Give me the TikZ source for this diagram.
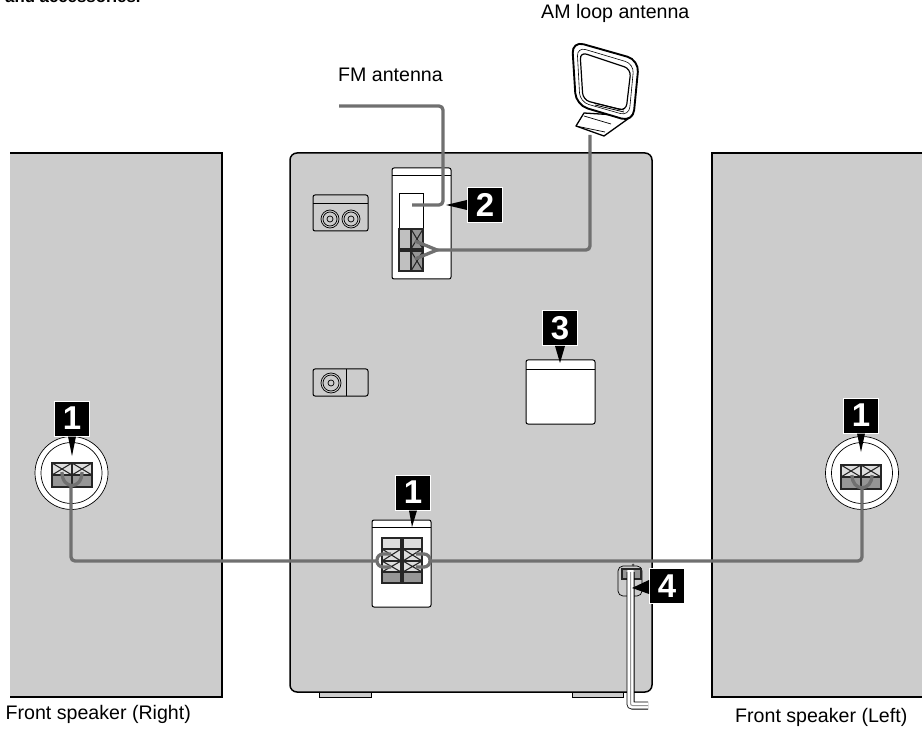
\documentclass[tikz,border=0pt]{standalone}
\usepackage{fontspec}
\setmainfont{Liberation Sans}
\definecolor{panelgrey}{RGB}{204,204,204}
\definecolor{wiregrey}{RGB}{112,112,112}
\definecolor{termgrey}{RGB}{150,150,150}
\definecolor{termlight}{RGB}{222,222,222}

\begin{document}
\begin{tikzpicture}[x=1pt,y=-1pt,
  wire/.style={draw=wiregrey,line width=3.3pt,rounded corners=4pt},
  outline/.style={draw=black,line width=1pt,rounded corners=2pt},
  thinline/.style={draw=black,line width=0.7pt},
  termline/.style={draw=black!85,line width=1.1pt},
  badge/.style={fill=black,draw=white,line width=1pt,text=white,minimum size=35pt,inner sep=0pt,font=\fontsize{33}{33}\selectfont\bfseries},
  caption/.style={inner sep=0pt,anchor=base west,font=\fontsize{19.6}{22}\selectfont}]
\useasboundingbox (0,0) rectangle (922,730);

% Speakers
\fill[panelgrey] (10,153) rectangle (222,697);
\draw[line width=1.5pt] (10,153) -- (222,153) -- (222,697) -- (10,697);
\fill[panelgrey] (712,153) rectangle (922,697);
\draw[line width=1.5pt] (922,153) -- (712,153) -- (712,697) -- (922,697);

% Main unit
\draw[line width=1pt,fill=panelgrey] (319,690) rectangle (371,697);
\draw[line width=1pt,fill=panelgrey] (572,690) rectangle (623,697);
\draw[line width=1.5pt,fill=panelgrey,rounded corners=7pt] (290,153) rectangle (652,692);

% Jack boxes
\draw[outline] (313,195) rectangle (368,231);
\draw[thinline] (313,203) -- (368,203);
\foreach \cx in {330,351} {
  \draw[thinline] (\cx,219) circle (9pt) circle (7pt) circle (3pt);
}
\draw[outline] (313,369) rectangle (368,396);
\draw[thinline] (346,369) -- (346,396);
\draw[thinline] (331,383) circle (10pt) circle (8pt) circle (3pt);

% Antenna panel
\draw[outline,fill=white] (392,168) rectangle (451,279);
\draw[thinline] (392,175) -- (451,175);
\draw[thinline] (399,229) -- (399,193) -- (423,193) -- (423,229);
\foreach \cy in {229,251} {
  \draw[termline,fill=termgrey!60] (399,\cy) rectangle (411,\cy+20);
  \draw[termline,fill=termgrey] (411,\cy) rectangle (423,\cy+20);
  \draw[termline] (411,\cy) -- (423,\cy+20) (423,\cy) -- (411,\cy+20);
}

% Panel with the third badge
\draw[outline,fill=white] (526,360) rectangle (595,424);
\draw[thinline] (526,369) -- (595,369);

% Speaker panel
\draw[outline,fill=white] (372,520) rectangle (431,607);
\draw[thinline] (372,527) -- (431,527);
\foreach \cx in {382,403} {
  \draw[termline,fill=termlight] (\cx,538) rectangle (\cx+19,549);
  \draw[termline,fill=termlight] (\cx,549) rectangle (\cx+19,561);
  \draw[termline,fill=termlight] (\cx,561) rectangle (\cx+19,572);
  \draw[termline,fill=termgrey] (\cx,572) rectangle (\cx+19,583);
  \draw[termline] (\cx,549) -- (\cx+19,561) (\cx+19,549) -- (\cx,561);
  \draw[termline] (\cx,561) -- (\cx+19,572) (\cx+19,561) -- (\cx,572);
}

% Speaker terminals
\draw[thinline,fill=white] (71.5,473) circle (36.5pt) circle (30.5pt);
\draw[thinline,fill=white] (862,473) circle (36.5pt) circle (30.5pt);
\foreach \cx/\cy in {52/463,72/463,841/465,861/465} {
  \draw[termline,fill=termlight] (\cx,\cy) rectangle (\cx+20,\cy+12);
  \draw[termline,fill=termgrey] (\cx,\cy+12) rectangle (\cx+20,\cy+24);
  \draw[termline] (\cx,\cy) -- (\cx+20,\cy+12) (\cx+20,\cy) -- (\cx,\cy+12);
}

% Wire ends
\coordinate (rightterm) at (71,484);
\coordinate (leftterm) at (862,486);
\coordinate (loopwest) at (377,561);
\coordinate (loopeast) at (430,561);
\coordinate (fmfree) at (339,106);
\coordinate (fmbend) at (443,205);
\coordinate (fmterm) at (412,205);
\coordinate (amfoot) at (590,135);
\coordinate (amfork) at (437,250);
\coordinate (amtop) at (415,241);
\coordinate (ambottom) at (415,259);

% Wires
\draw[wire] (rightterm) |- (loopwest);
\draw[wire] (loopeast) -| (leftterm);
\draw[wire] (62,472) .. controls (62,490) and (82,490) .. (82,472);
\draw[wire] (852,475) .. controls (852,492) and (872,492) .. (872,475);
\draw[wire,rounded corners=6pt] (391,554) -- (377,554) -- (377,567) -- (391,567);
\draw[wire,rounded corners=6pt] (416,554) -- (430,554) -- (430,567) -- (416,567);
\draw[wire] (fmfree) -| (fmbend) -- (fmterm);
\draw[wire] (amfoot) |- (amfork);
\draw[wire,rounded corners=0pt] (amtop) -- (amfork) -- (ambottom);

% Loop antenna
\draw[line width=1.3pt,fill=white,line join=round] (584,113) -- (576,126) -- (604,136) -- (632,116) -- cycle;
\draw[thinline] (584,116) -- (611,124) (576,126) -- (605,132);
\draw[line width=1.9pt,fill=white,rounded corners=12pt] (572,41) -- (639,60) -- (633,122) -- (576,105) -- cycle;
\draw[line width=0.6pt,rounded corners=9pt] (577,47) -- (634,64) -- (629,116) -- (580,102) -- cycle;
\draw[line width=1.2pt,rounded corners=7pt] (580,52) -- (631,69) -- (626,111) -- (583,100) -- cycle;
\draw[line width=0.8pt] (594,103) -- (624,110) (595,105) -- (624,112);

% Cord clip
\draw[line width=0.7pt,rounded corners=5pt] (618,566) rectangle (642,596);
\draw[termline,fill=termgrey] (622,569) rectangle (641,579);
\fill[black!70] (633,565) circle (1.5pt);
\draw[black,line width=8pt,rounded corners=2pt] (630.5,572) -- (630.5,705.5) -- (648,705.5);
\draw[white,line width=6.4pt,rounded corners=2pt] (630.5,570) -- (630.5,705.5) -- (648,705.5);
\draw[termgrey,line width=1pt,rounded corners=2pt] (630.5,572) -- (630.5,705.5) -- (648,705.5);

% Badges
\node[badge] (badgeright) at (72,418.5) {1};
\node[badge] (badgeleft) at (861,415.5) {1};
\node[badge] (badgespeaker) at (413,492.5) {1};
\node[badge] (badgeantenna) at (485,205) {2};
\node[badge] (badgepanel) at (560,328) {3};
\node[badge] (badgecord) at (667,586) {4};

% Pointers
\coordinate (tipright) at (72,456);
\coordinate (tipleft) at (861,452);
\coordinate (tipspeaker) at (412,527);
\coordinate (tipantenna) at (446,205);
\coordinate (tippanel) at (560,363);
\coordinate (tipcord) at (632,588);
\fill ([xshift=-4pt]badgeright.south) -- (tipright) -- ([xshift=4pt]badgeright.south) -- cycle;
\fill ([xshift=-4pt]badgeleft.south) -- (tipleft) -- ([xshift=4pt]badgeleft.south) -- cycle;
\fill ([xshift=-4pt]badgespeaker.south) -- (tipspeaker) -- ([xshift=4pt]badgespeaker.south) -- cycle;
\fill ([yshift=-5pt]badgeantenna.west) -- (tipantenna) -- ([yshift=5pt]badgeantenna.west) -- cycle;
\fill ([xshift=-5pt]badgepanel.south) -- (tippanel) -- ([xshift=5pt]badgepanel.south) -- cycle;
\fill ([yshift=-8pt]badgecord.west) -- (tipcord) -- ([yshift=6pt]badgecord.west) -- cycle;

% Labels
\node[inner sep=0pt,anchor=base west,font=\fontsize{16.8}{18}\selectfont\bfseries] (topnote) at (5,2.5) {and accessories.};
\node[caption] (amlabel) at (541,19) {AM loop antenna};
\node[caption] (fmlabel) at (338,82) {FM antenna};
\node[caption] (rightlabel) at (5.5,719) {Front speaker (Right)};
\node[caption] (leftlabel) at (735,722) {Front speaker (Left)};
\end{tikzpicture}
\end{document}
